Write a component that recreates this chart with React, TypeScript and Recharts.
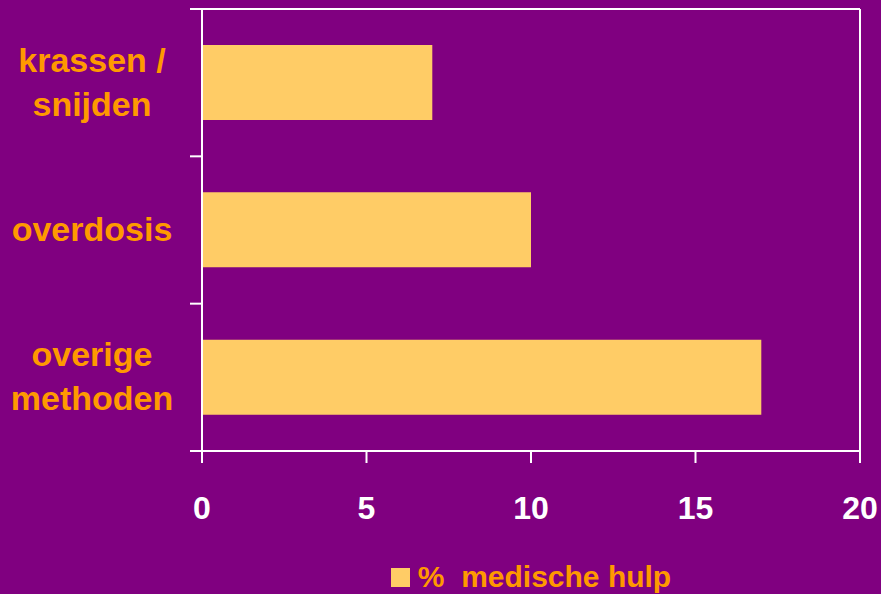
import React from 'react'
import { BarChart, Bar, XAxis, YAxis, Legend } from 'recharts'

// data
const categories = ['krassen /\nsnijden', 'overdosis', 'overige\nmethoden']
const medischeHulp = [7, 10, 17]
const xTicks = [0, 5, 10, 15, 20]
const seriesName = '%  medische hulp'

const data = categories.map((name, i) => ({ name, value: medischeHulp[i] }))

const W = 881
const H = 594
const TOP = 9
const PLOT_LEFT = 202
const PLOT_BOTTOM = 451
const BAND = (PLOT_BOTTOM - TOP) / categories.length

const PURPLE = '#800080'
const BAR = '#FFCC66'
const ORANGE = '#FF9900'
const LINE = '#FFFFFF'
const FONT = '"Liberation Sans", Arial, Helvetica, sans-serif'

function CategoryTick(props: any) {
  const { y, payload, index } = props
  const lines = String(payload.value).split('\n')
  const first = y + 11 - (lines.length - 1) * 22
  const last = index === categories.length - 1
  return (
    <g>
      <line x1={PLOT_LEFT - 12} x2={PLOT_LEFT} y1={y - BAND / 2} y2={y - BAND / 2} stroke={LINE} strokeWidth={2} />
      {last && (
        <line x1={PLOT_LEFT - 12} x2={PLOT_LEFT} y1={y + BAND / 2} y2={y + BAND / 2} stroke={LINE} strokeWidth={2} />
      )}
      <text textAnchor="middle" fill={ORANGE} fontSize={34} fontWeight="bold" fontFamily={FONT}>
        {lines.map((l, i) => (
          <tspan key={i} x={92} y={first + i * 44}>
            {l}
          </tspan>
        ))}
      </text>
    </g>
  )
}

function ValueTick(props: any) {
  const { x, y, payload } = props
  return (
    <text x={x} y={y} dy={54} textAnchor="middle" fill="#FFFFFF" fontSize={32} fontWeight="bold" fontFamily={FONT}>
      {payload.value}
    </text>
  )
}

function LegendContent() {
  return (
    <div style={{ display: 'flex', justifyContent: 'center', alignItems: 'flex-start', height: 34 }}>
      <div style={{ width: 19, height: 19, marginTop: 8, background: BAR }} />
      <span
        style={{
          marginLeft: 8,
          color: ORANGE,
          fontSize: 30,
          fontWeight: 'bold',
          fontFamily: FONT,
          whiteSpace: 'pre',
          lineHeight: '34px',
        }}
      >
        {seriesName}
      </span>
    </div>
  )
}

export default function App() {
  return (
    <div style={{ position: 'absolute', left: 0, top: 0, width: W, height: H, background: PURPLE }}>
      <BarChart width={W} height={H} data={data} layout="vertical" margin={{ top: 0, right: 0, bottom: 0, left: 0 }}>
        <XAxis
          type="number"
          domain={[0, 20]}
          ticks={xTicks}
          height={109}
          tickSize={12}
          tickLine={{ stroke: LINE, strokeWidth: 2 }}
          axisLine={{ stroke: LINE, strokeWidth: 2 }}
          tick={<ValueTick />}
          interval={0}
        />
        <XAxis xAxisId="t" orientation="top" type="number" domain={[0, 20]} height={TOP} tick={false} tickLine={false} axisLine={{ stroke: LINE, strokeWidth: 2 }} />
        <YAxis
          type="category"
          dataKey="name"
          width={PLOT_LEFT}
          tickLine={false}
          axisLine={{ stroke: LINE, strokeWidth: 2 }}
          tick={<CategoryTick />}
          interval={0}
        />
        <YAxis yAxisId="r" orientation="right" type="category" dataKey="name" width={21} tick={false} tickLine={false} axisLine={{ stroke: LINE, strokeWidth: 2 }} />
        <Legend verticalAlign="bottom" content={<LegendContent />} wrapperStyle={{ left: PLOT_LEFT, width: 658, bottom: 0 }} />
        <Bar dataKey="value" name={seriesName} fill={BAR} barSize={75} isAnimationActive={false} />
      </BarChart>
    </div>
  )
}
